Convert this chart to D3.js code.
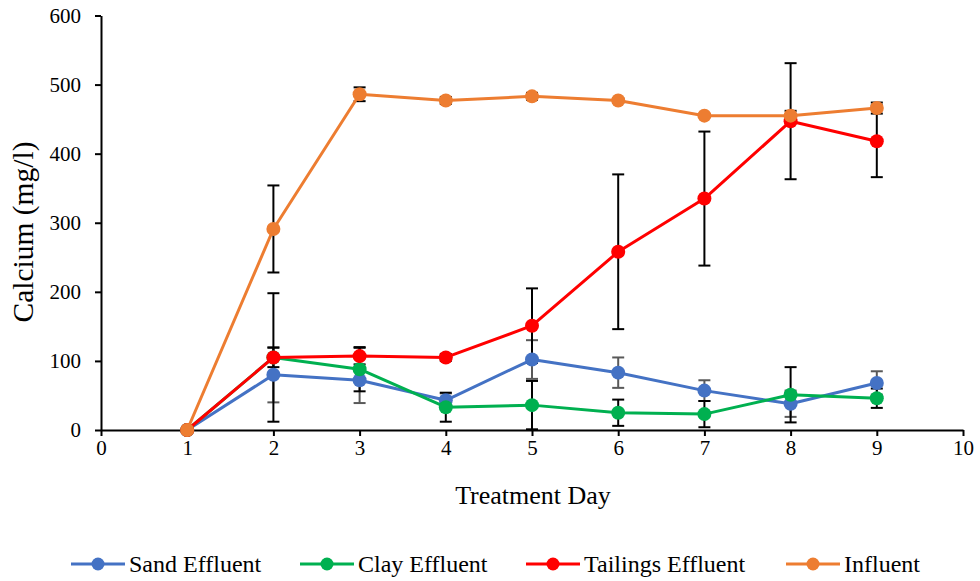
<!DOCTYPE html>
<html>
<head>
<meta charset="utf-8">
<script src="https://cdn.jsdelivr.net/npm/d3@7"></script>
<style>
  body { margin: 0; background: #fff; }
  text { font-family: "Liberation Serif", "Times New Roman", serif; fill: #000; }
</style>
</head>
<body>
<svg id="chart" width="980" height="581"></svg>
<script>
// chart values
const days = [1, 2, 3, 4, 5, 6, 7, 8, 9];
const sand = [0, 80, 72, 43, 102, 83, 57, 38, 68];
const sandErr = [0, 40, 33, 10, 28, 22, 15, 19, 17];
const clay = [0, 105, 88, 33, 36, 25, 23, 51, 46];
const clayErr = [0, 14, 32, 21, 35, 19, 19, 40, 14];
const tailings = [0, 105, 107, 105, 151, 258, 335, 447, 418];
const tailingsErr = [0, 93, 12, 5, 54, 112, 97, 84, 52];
const influent = [0, 291, 486, 477, 483, 477, 455, 455, 466];
const influentErr = [0, 63, 10, 5, 5, 3, 2, 7, 8];
const xTicks = [0, 1, 2, 3, 4, 5, 6, 7, 8, 9, 10];
const yTicks = [0, 100, 200, 300, 400, 500, 600];

const series = [
  { name: 'Sand Effluent', values: sand, err: sandErr, color: '#4472C4', errColor: '#595959' },
  { name: 'Clay Effluent', values: clay, err: clayErr, color: '#00B050', errColor: '#000' },
  { name: 'Tailings Effluent', values: tailings, err: tailingsErr, color: '#FF0000', errColor: '#000' },
  { name: 'Influent', values: influent, err: influentErr, color: '#ED7D31', errColor: '#000' }
];

const margin = { top: 15.5, right: 17, bottom: 151, left: 101 };
const width = 980, height = 581;
const chartWidth = width - margin.left - margin.right;
const chartHeight = height - margin.top - margin.bottom;

const svg = d3.select('#chart')
  .append('g')
  .attr('transform', `translate(${margin.left}, ${margin.top})`);

const xScale = d3.scaleLinear().domain([0, 10]).range([0, chartWidth]);
const yScale = d3.scaleLinear().domain([0, 600]).range([chartHeight, 0]);

// axes
const xAxis = svg.append('g')
  .attr('transform', `translate(0, ${chartHeight})`)
  .call(d3.axisBottom(xScale).tickValues(xTicks).tickSize(6).tickSizeOuter(0).tickPadding(4));
const yAxis = svg.append('g')
  .call(d3.axisLeft(yScale).tickValues(yTicks).tickSize(6).tickSizeOuter(0).tickPadding(14));
[xAxis, yAxis].forEach(a => {
  a.attr('font-family', '"Liberation Serif", serif');
  a.selectAll('path, line').attr('stroke', '#000').attr('stroke-width', 2);
  a.selectAll('text')
    .style('font-family', '"Liberation Serif", serif')
    .style('font-size', '21px')
    .attr('fill', '#000');
});

// error bars
series.forEach(s => {
  const g = svg.append('g');
  days.forEach((d, i) => {
    const e = s.err[i];
    if (!e) return;
    const x = xScale(d);
    const y1 = yScale(s.values[i] + e);
    const y2 = yScale(s.values[i] - e);
    g.append('line').attr('x1', x).attr('x2', x).attr('y1', y1).attr('y2', y2)
      .attr('stroke', s.errColor).attr('stroke-width', 2);
    [y1, y2].forEach(y => {
      g.append('line').attr('x1', x - 6).attr('x2', x + 6).attr('y1', y).attr('y2', y)
        .attr('stroke', s.errColor).attr('stroke-width', 2);
    });
  });
});

// lines and markers
const line = d3.line()
  .x((d, i) => xScale(days[i]))
  .y(d => yScale(d));

series.forEach(s => {
  svg.append('path')
    .datum(s.values)
    .attr('d', line)
    .attr('fill', 'none')
    .attr('stroke', s.color)
    .attr('stroke-width', 3)
    .attr('stroke-linejoin', 'round');
  svg.selectAll(null)
    .data(s.values)
    .enter()
    .append('circle')
    .attr('cx', (d, i) => xScale(days[i]))
    .attr('cy', d => yScale(d))
    .attr('r', 7)
    .attr('fill', s.color);
});

// axis titles
svg.append('text')
  .attr('x', chartWidth / 2 + 1)
  .attr('y', chartHeight + 74)
  .style('text-anchor', 'middle')
  .style('font-size', '26px')
  .text('Treatment Day');

svg.append('text')
  .attr('transform', 'rotate(-90)')
  .attr('x', -(232 - margin.top))
  .attr('y', -68)
  .style('text-anchor', 'middle')
  .style('font-size', '29.5px')
  .text('Calcium (mg/l)');

// legend
const legendX = [71, 300, 526, 786];
const legend = d3.select('#chart').append('g').attr('transform', 'translate(0, 564)');
series.forEach((s, i) => {
  const g = legend.append('g').attr('transform', `translate(${legendX[i]}, 0)`);
  g.append('line').attr('x1', 0).attr('x2', 54).attr('y1', 0).attr('y2', 0)
    .attr('stroke', s.color).attr('stroke-width', 3);
  g.append('circle').attr('cx', 27).attr('cy', 0).attr('r', 6.5).attr('fill', s.color);
  g.append('text').attr('x', 58).attr('y', 8)
    .style('font-size', '24px')
    .text(s.name);
});
</script>
</body>
</html>
